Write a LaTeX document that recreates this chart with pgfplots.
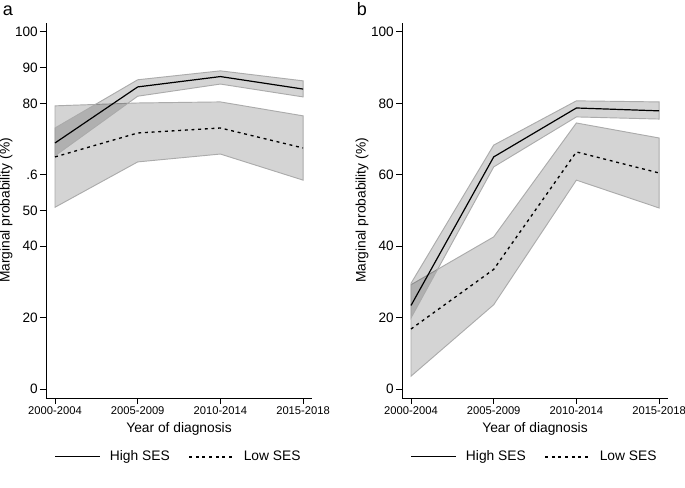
\documentclass[border=0pt]{standalone}
\usepackage{fontspec}
\setmainfont{Liberation Sans}
\usepackage{pgfplots}
\pgfplotsset{compat=1.18}

\newcommand{\lab}{\fontsize{10.35}{12}\selectfont}
\pgfplotsset{
  panel/.style={
    scale only axis, width=199.5pt, height=281.25pt,
    xmin=-0.109, xmax=3.108, ymin=-2.52, ymax=102.5,
    axis x line*=bottom, axis y line*=left,
    axis line style={-, line width=0.7pt, black},
    clip=false,
    xtick={0,1,2,3},
    xticklabels={2000-2004,2005-2009,2010-2014,2015-2018},
    tick align=outside, major tick length=4.5pt,
    tick style={black, line width=0.7pt},
    x tick label style={font=\fontsize{8.4}{10}\selectfont, inner sep=1.5pt},
    y tick label style={font=\fontsize{10.2}{12}\selectfont, inner sep=1.5pt},
    xlabel={\lab Year of diagnosis},
    xlabel style={at={(axis description cs:0.5,-0.083)}, anchor=center, font=\lab},
    ylabel={\lab Marginal probability (\%)},
    ylabel style={at={(axis description cs:-0.15,0.5)}, anchor=center, font=\lab},
    legend style={at={(axis description cs:0.5,-0.157)}, anchor=center, draw=none, fill=none,
      legend columns=2, font=\lab,
      /tikz/every even column/.append style={column sep=12pt}},
    legend image code/.code={\draw[#1] (0pt,0pt) -- (33.75pt,0pt); \path (38.5pt,0pt);},
  },
  band/.style={fill=black, fill opacity=0.17, draw=black!33, line width=0.7pt, forget plot},
  high/.style={black, line width=0.9pt},
  low/.style={black, line width=1pt, dash pattern=on 2.2pt off 2.8pt},
}

\begin{document}
\begin{tikzpicture}
\path[use as bounding box] (0,0) rectangle (513.75pt,365.25pt);

% Panel a
\begin{axis}[panel, at={(34.5pt,66.75pt)}, anchor=south west,
  ytick={0,20,40,50,60,80,90,100},
  yticklabels={0,20,40,50,.6,80,90,100}]
\addplot[band] coordinates {(0,79.3) (1,80.1) (2,80.4) (3,76.5) (3,58.5) (2,65.8) (1,63.6) (0,50.9)} -- cycle;
\addplot[band] coordinates {(0,73.1) (1,86.6) (2,89.1) (3,86.3) (3,81.8) (2,85.4) (1,82.0) (0,65.3)} -- cycle;
\addplot[high] coordinates {(0,68.9) (1,84.6) (2,87.5) (3,84.0)};
\addlegendentry{High SES}
\addplot[low] coordinates {(0,65.0) (1,71.7) (2,73.1) (3,67.5)};
\addlegendentry{Low SES}
\end{axis}

% Panel b
\begin{axis}[panel, at={(301.5pt,66.75pt)}, anchor=south west,
  ytick={0,20,40,60,80,100},
  yticklabels={0,20,40,60,80,100}]
\addplot[band] coordinates {(0,29.2) (1,42.6) (2,74.5) (3,70.3) (3,50.7) (2,58.5) (1,23.6) (0,3.6)} -- cycle;
\addplot[band] coordinates {(0,29.6) (1,68.3) (2,80.7) (3,80.4) (3,75.6) (2,76.2) (1,62.2) (0,19.9)} -- cycle;
\addplot[high] coordinates {(0,23.4) (1,65.0) (2,78.7) (3,77.9)};
\addlegendentry{High SES}
\addplot[low] coordinates {(0,16.8) (1,33.5) (2,66.4) (3,60.5)};
\addlegendentry{Low SES}
\end{axis}

\node[anchor=base, inner sep=0pt, font=\fontsize{13.5}{16}\selectfont] at (6pt,354pt) {a};
\node[anchor=base, inner sep=0pt, font=\fontsize{13.5}{16}\selectfont] at (271.5pt,354pt) {b};
\end{tikzpicture}
\end{document}
